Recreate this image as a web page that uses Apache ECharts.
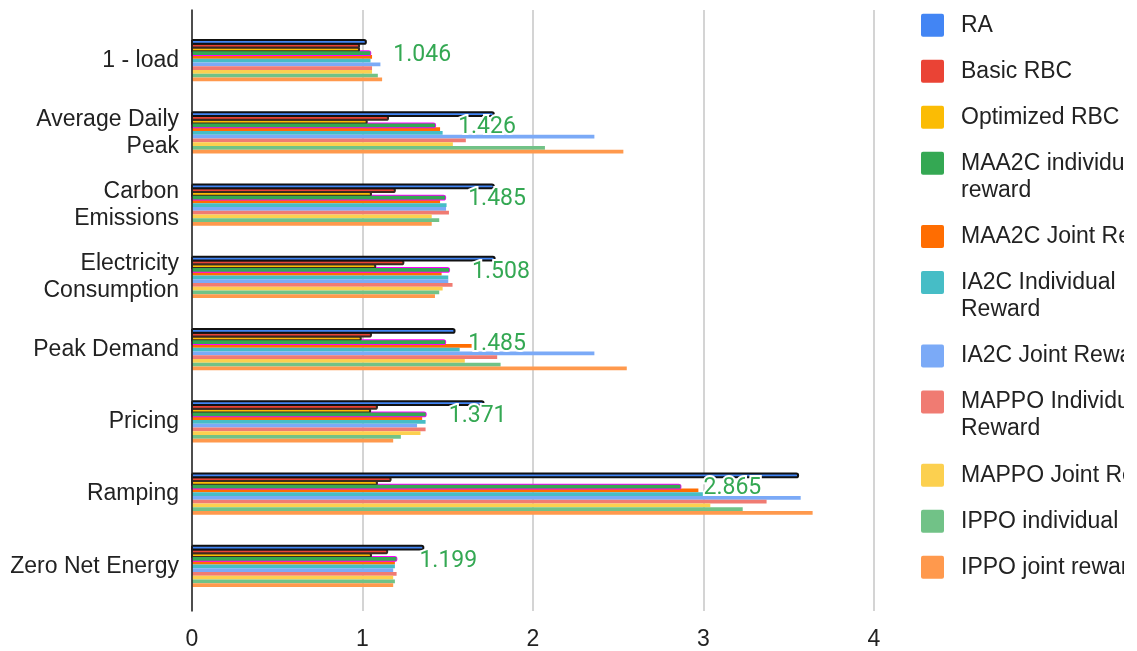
<!DOCTYPE html>
<html>
<head>
<meta charset="utf-8">
<script src="https://cdn.jsdelivr.net/npm/echarts@6/dist/echarts.min.js"></script>
<style>
  html, body { margin: 0; padding: 0; background: #ffffff; }
  #chart { width: 1124px; height: 651px; }
</style>
</head>
<body>
<div id="chart"></div>
<script>
// KPI categories (top to bottom)
const categories = [
  '1 - load',
  'Average Daily\nPeak',
  'Carbon\nEmissions',
  'Electricity\nConsumption',
  'Peak Demand',
  'Pricing',
  'Ramping',
  'Zero Net Energy'
];

// Normalised KPI values per controller
const raValues          = [1.02, 1.77, 1.77, 1.775, 1.54, 1.71, 3.555, 1.357];
const basicRbcValues    = [0.98, 1.15, 1.19, 1.24, 1.05, 1.085, 1.165, 1.145];
const optRbcValues      = [0.98, 1.025, 1.05, 1.075, 0.99, 1.045, 1.085, 1.05];
const maa2cIndValues    = [1.046, 1.426, 1.485, 1.508, 1.485, 1.371, 2.865, 1.199];
const maa2cJointValues  = [1.056, 1.455, 1.455, 1.464, 1.64, 1.35, 2.97, 1.19];
const ia2cIndValues     = [1.047, 1.47, 1.493, 1.503, 1.57, 1.37, 3.01, 1.19];
const ia2cJointValues   = [1.105, 2.36, 1.49, 1.503, 2.36, 1.32, 3.57, 1.18];
const mappoIndValues    = [1.056, 1.606, 1.507, 1.528, 1.79, 1.37, 3.37, 1.2];
const mappoJointValues  = [1.056, 1.53, 1.406, 1.47, 1.60, 1.34, 3.04, 1.18];
const ippoIndValues     = [1.09, 2.07, 1.45, 1.45, 1.81, 1.225, 3.23, 1.19];
const ippoJointValues   = [1.115, 2.53, 1.406, 1.425, 2.55, 1.18, 3.64, 1.18];

const seriesNames = [
  'RA', 'Basic RBC', 'Optimized RBC', 'MAA2C individual reward', 'MAA2C Joint Reward',
  'IA2C Individual Reward', 'IA2C Joint Reward', 'MAPPO Individual Reward',
  'MAPPO Joint Reward', 'IPPO individual reward', 'IPPO joint reward'
];
const seriesValues = [
  raValues, basicRbcValues, optRbcValues, maa2cIndValues, maa2cJointValues,
  ia2cIndValues, ia2cJointValues, mappoIndValues, mappoJointValues, ippoIndValues, ippoJointValues
];
const seriesColors = [
  '#4285f4', '#ea4335', '#fbbc04', '#34a853', '#ff6d01',
  '#46bdc6', '#7baaf7', '#f07b72', '#fcd04f', '#71c287', '#ff994d'
];

// Legend entries that wrap onto a second line
const legendLines = {
  'MAA2C individual reward': ['MAA2C individual', 'reward'],
  'IA2C Individual Reward': ['IA2C Individual', 'Reward'],
  'MAPPO Individual Reward': ['MAPPO Individual', 'Reward']
};

const xTicks = [0, 1, 2, 3, 4];

const FONT = "'Liberation Sans', Arial, sans-serif";
const TEXT = '#222222';
const CATEGORY_GAP = 0.43;

// Series drawn with an outline around their bars
const outlineColors = {
  'RA': '#111111',
  'Basic RBC': '#3a2a22',
  'Optimized RBC': '#3a2a22',
  'MAA2C individual reward': '#ff00ff'
};

const series = seriesNames.map((name, i) => {
  const s = {
    name: name,
    type: 'bar',
    xAxisIndex: 0,
    yAxisIndex: 0,
    data: seriesValues[i],
    barGap: '0%',
    barCategoryGap: (CATEGORY_GAP * 100) + '%',
    itemStyle: { color: seriesColors[i] }
  };
  if (name === 'MAA2C individual reward') {
    s.z = 4;
    s.label = {
      show: true,
      position: 'right',
      distance: 23,
      offset: [0, 2],
      color: '#34a853',
      fontFamily: 'Roboto, sans-serif',
      fontSize: 23,
      textBorderColor: '#ffffff',
      textBorderWidth: 4,
      formatter: p => p.value
    };
  }
  return s;
});

// Outlined bars: same slot as the plain bar, stroke drawn outside the bar edge
function outlineRenderer(slot, fill, stroke) {
  return function (params, api) {
    const v = api.value(0);
    const cat = api.value(1);
    const start = api.coord([0, cat]);
    const end = api.coord([v, cat]);
    const band = api.size([0, 1])[1];
    const total = band * (1 - CATEGORY_GAP);
    const w = total / seriesNames.length;
    const y = start[1] - total / 2 + slot * w;
    return {
      type: 'rect',
      shape: { x: start[0], y: y, width: end[0] - start[0], height: w, r: [0, 3, 3, 0] },
      style: { fill: fill, stroke: stroke, lineWidth: 2 }
    };
  };
}

seriesNames
  .map((name, slot) => ({ name, slot }))
  .filter(d => outlineColors[d.name])
  .reverse()
  .forEach(d => {
    series.push({
      name: d.name,
      type: 'custom',
      xAxisIndex: 0,
      yAxisIndex: 0,
      z: 3,
      silent: true,
      encode: { x: 0, y: 1 },
      data: seriesValues[d.slot].map((v, ci) => [v, ci]),
      renderItem: outlineRenderer(d.slot, seriesColors[d.slot], outlineColors[d.name])
    });
  });

// One legend block per series, stacked down the right-hand side
const LINE_H = 27;
const legends = [];
let centerY = 25.3;
seriesNames.forEach((name) => {
  const lines = legendLines[name];
  legends.push({
    data: [name],
    orient: 'vertical',
    left: 921,
    top: lines ? centerY - LINE_H * 1.5 : centerY - LINE_H / 2,
    padding: 0,
    itemWidth: 23,
    itemHeight: 23,
    icon: 'path://M2,0 H21 A2,2 0 0 1 23,2 V21 A2,2 0 0 1 21,23 H2 A2,2 0 0 1 0,21 V2 A2,2 0 0 1 2,0 Z',
    itemStyle: { borderWidth: 0 },
    formatter: n => (legendLines[n] ? '\n' + legendLines[n].join('\n') : n),
    textStyle: {
      fontFamily: FONT,
      fontSize: 23,
      color: TEXT,
      lineHeight: LINE_H,
      padding: [0, 0, 0, 12]
    }
  });
  centerY += 46 + (lines ? 27.3 : 0);
});

const option = {
  backgroundColor: '#ffffff',
  animation: false,
  legend: legends,
  grid: [
    { left: 192, right: 250, top: 24.5, bottom: 48.5 },
    { left: 192, right: 250, top: 10, bottom: 36 }
  ],
  xAxis: [
    {
      type: 'value', gridIndex: 0, min: 0, max: 4, interval: 1,
      axisLine: { show: false }, axisTick: { show: false },
      axisLabel: { show: false }, splitLine: { show: false }
    },
    {
      type: 'value', gridIndex: 1, min: 0, max: 4, interval: 1,
      axisLine: { show: false }, axisTick: { show: false },
      axisLabel: {
        show: true, fontFamily: FONT, fontSize: 23, color: TEXT, margin: 17,
        formatter: v => (xTicks.indexOf(v) >= 0 ? String(v) : '')
      },
      splitLine: { show: true, lineStyle: { color: '#d4d4d4', width: 2 } }
    }
  ],
  yAxis: [
    {
      type: 'category', gridIndex: 0, data: categories, inverse: true,
      axisLine: { show: false }, axisTick: { show: false },
      axisLabel: {
        fontFamily: FONT, fontSize: 23, color: TEXT, margin: 13,
        lineHeight: LINE_H, align: 'right', padding: [3, 0, 0, 0]
      },
      splitLine: { show: false }
    },
    {
      type: 'value', gridIndex: 1, min: 0, max: 1, z: 8,
      axisLine: { show: true, lineStyle: { color: '#222222', width: 1.5 } },
      axisTick: { show: false }, axisLabel: { show: false }, splitLine: { show: false }
    }
  ],
  series: series
};

const chart = echarts.init(document.getElementById('chart'), null, { renderer: 'canvas' });
chart.setOption(option);
</script>
</body>
</html>
